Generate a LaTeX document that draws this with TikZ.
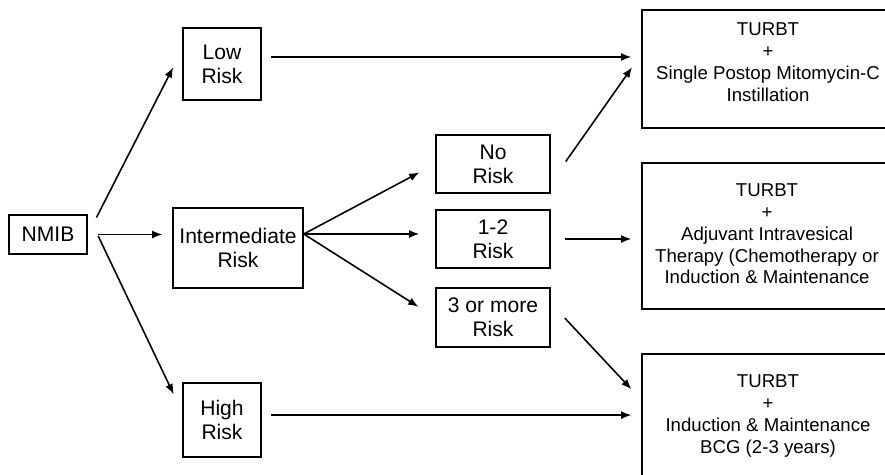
\documentclass[tikz,border=0pt]{standalone}
\usepackage{fontspec}
\setmainfont{Liberation Sans}
\usetikzlibrary{arrows.meta}

\begin{document}
\begin{tikzpicture}[x=0.02cm, y=-0.02cm, every node/.style={draw, line width=0.9pt, align=center, inner sep=2pt, font=\fontsize{12}{13.8}\selectfont}, treat/.style={minimum width=5.56cm, font=\fontsize{10.6}{12.4}\selectfont}]
            \useasboundingbox (0,0) rectangle (885,475);
            \node[minimum width=1.56cm, minimum height=0.78cm] (nmib) at (48,234.5) {NMIB};
            \node[minimum width=1.56cm, minimum height=1.44cm] (low) at (222,64) {Low\\Risk};
            \node[minimum width=2.6cm, minimum height=1.6cm] (inter) at (238,248) {Intermediate\\Risk};
            \node[minimum width=1.56cm, minimum height=1.48cm] (high) at (222,420) {High\\Risk};
            \node[minimum width=2.28cm, minimum height=1.16cm] (norisk) at (493,164) {No\\Risk};
            \node[minimum width=2.28cm, minimum height=1.16cm] (onetwo) at (493,239) {1-2\\Risk};
            \node[minimum width=2.28cm, minimum height=1.18cm] (more) at (493,317.5) {3 or more\\Risk};
            \node[treat, minimum height=2.36cm] (turA) at (781,69) {\begin{tabular}{@{}c@{}}TURBT\\+\\Single Postop Mitomycin-C\\Instillation\\[0.2cm]\end{tabular}\hspace{0.52cm}};
            \node[treat, minimum height=2.92cm] (turB) at (781,236) {\begin{tabular}{@{}c@{}}TURBT\\+\\Adjuvant Intravesical\\Therapy (Chemotherapy or\\Induction \& Maintenance\end{tabular}\hspace{0.56cm}};
            \node[treat, minimum height=2.92cm] (turC) at (781,427) {\begin{tabular}{@{}c@{}}TURBT\\+\\Induction \& Maintenance\\BCG (2-3 years)\\[0.44cm]\end{tabular}\hspace{0.52cm}};

            \draw[->, >={Latex[length=5.8pt, width=4.6pt]}, line width=0.9pt, shorten <=0.38cm, shorten >=0.4cm] (nmib.east) -- (low.160);
            \draw[->, >={Latex[length=5.8pt, width=4.6pt]}, line width=0.9pt, shorten <=0.2cm, shorten >=0.2cm] (nmib.east) -- (nmib.east -| inter.west);
            \draw[->, >={Latex[length=5.8pt, width=4.6pt]}, line width=0.9pt, shorten <=0.48cm, shorten >=0.4cm] (nmib.north east) -- (high.169);
            \draw[->, >={Latex[length=5.8pt, width=4.6pt]}, line width=0.9pt, shorten >=0.36cm] (inter.12) -- (norisk.west);
            \draw[->, >={Latex[length=5.8pt, width=4.6pt]}, line width=0.9pt, shorten >=0.32cm] (inter.12) -- (inter.12 -| onetwo.west);
            \draw[->, >={Latex[length=5.8pt, width=4.6pt]}, line width=0.9pt, shorten >=0.4cm] (inter.12) -- (more.west);
            \draw[->, >={Latex[length=5.8pt, width=4.6pt]}, line width=0.9pt, shorten <=0.18cm, shorten >=0.2cm] (low.10) -- (low.10 -| turA.west);
            \draw[->, >={Latex[length=5.8pt, width=4.6pt]}, line width=0.9pt, shorten <=0.52cm, shorten >=0.32cm] (norisk.-18) -- (turA.174);
            \draw[->, >={Latex[length=5.8pt, width=4.6pt]}, line width=0.9pt, shorten <=0.28cm, shorten >=0.2cm] (onetwo.east) -- (onetwo.east -| turB.west);
            \draw[->, >={Latex[length=5.8pt, width=4.6pt]}, line width=0.9pt, shorten <=0.41cm, shorten >=0.29cm] (more.14) -- (turC.169);
            \draw[->, >={Latex[length=5.8pt, width=4.6pt]}, line width=0.9pt, shorten <=0.18cm, shorten >=0.2cm] (high.7) -- (high.7 -| turC.west);
        \end{tikzpicture}
\end{document}
